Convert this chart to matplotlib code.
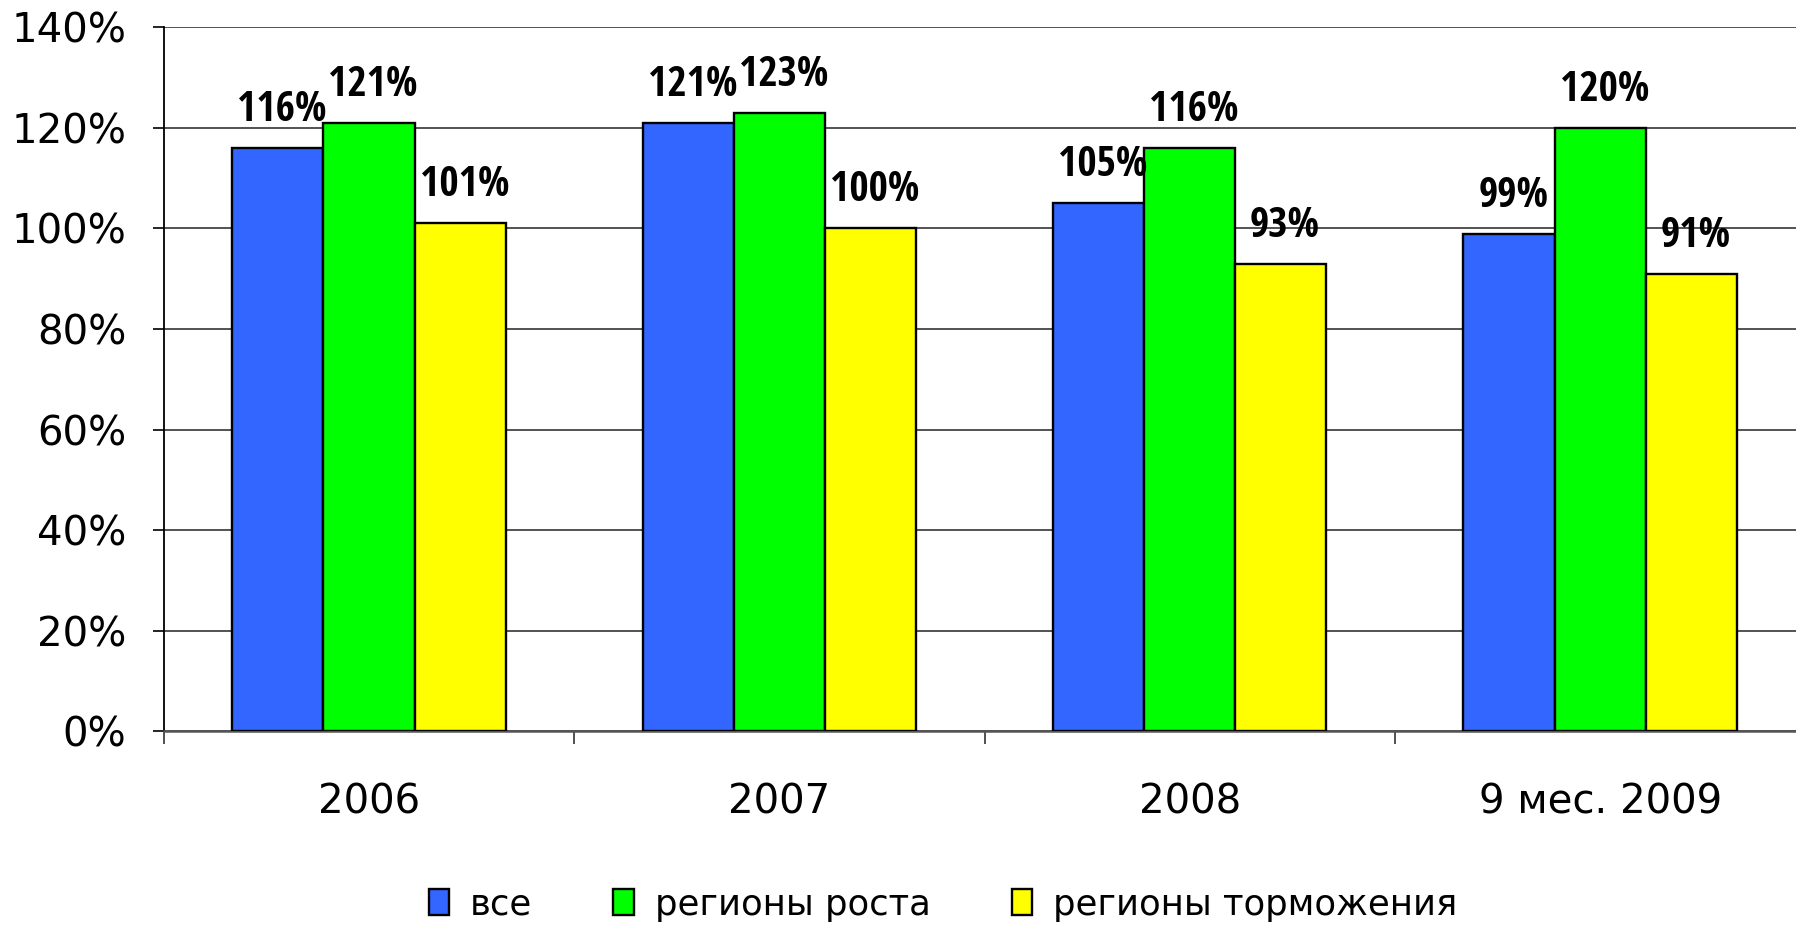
import matplotlib.pyplot as plt
import numpy as np
from matplotlib.ticker import FixedLocator, FuncFormatter

categories = ['2006', '2007', '2008', '9 мес. 2009']
series_names = ['все', 'регионы роста', 'регионы торможения']
all_regions = [1.16, 1.21, 1.05, 0.99]
growth = [1.21, 1.23, 1.16, 1.20]
slowdown = [1.01, 1.00, 0.93, 0.91]
colors = ['#3366ff', '#00ff00', '#ffff00']

fig = plt.figure(figsize=(17.96, 9.25), dpi=100)
ax = fig.add_axes([0.0912, 0.2097, 0.914, 0.7606])

x = np.arange(len(categories))
barWidth = 0.222
series = [all_regions, growth, slowdown]
for i, (vals, name, col) in enumerate(zip(series, series_names, colors)):
    pos = x + (i - 1) * barWidth
    ax.bar(pos, vals, width=barWidth, color=col, edgecolor='black',
           linewidth=1.7, label=name, zorder=3)
    for px, v in zip(pos, vals):
        ax.annotate('%d%%' % round(v * 100), (px, v), xytext=(3, 27),
                    textcoords='offset points', ha='center', va='center',
                    fontsize=30, fontweight='bold',
                    family=['Open Sans Condensed', 'DejaVu Sans'],
                    zorder=4)

ax.set_xlim(-0.5, len(categories) - 0.5)
ax.set_ylim(0, 1.4)
ax.yaxis.set_major_locator(FixedLocator(np.arange(0, 1.41, 0.2)))
ax.yaxis.set_major_formatter(FuncFormatter(lambda v, p: '%d%%' % round(v * 100)))
ax.yaxis.grid(True, color='#444444', linewidth=1.3, zorder=0)
ax.set_axisbelow(True)

# group separators as major ticks, names as minor ticks
ax.xaxis.set_major_locator(FixedLocator(np.arange(-0.5, len(categories), 1.0)))
ax.xaxis.set_major_formatter(FuncFormatter(lambda v, p: ''))
ax.xaxis.set_minor_locator(FixedLocator(x))
ax.set_xticklabels(categories, minor=True)
ax.tick_params(axis='x', which='major', length=9, width=1.2, color='#333333')
ax.tick_params(axis='x', which='minor', length=0, pad=37, labelsize=29)
ax.tick_params(axis='y', length=8, width=1.2, pad=19, labelsize=29)

for s in ['top', 'right']:
    ax.spines[s].set_visible(False)
ax.spines['left'].set_color('black')
ax.spines['left'].set_linewidth(1.3)
ax.spines['bottom'].set_color('#555555')
ax.spines['bottom'].set_linewidth(1.8)

fig.legend(loc='center', bbox_to_anchor=(0.525, 0.022), ncol=3, frameon=False,
           fontsize=25.5, handlelength=0.58, handleheight=0.75, handletextpad=0.58,
           columnspacing=2.3)

plt.savefig('out.png', dpi=100)
